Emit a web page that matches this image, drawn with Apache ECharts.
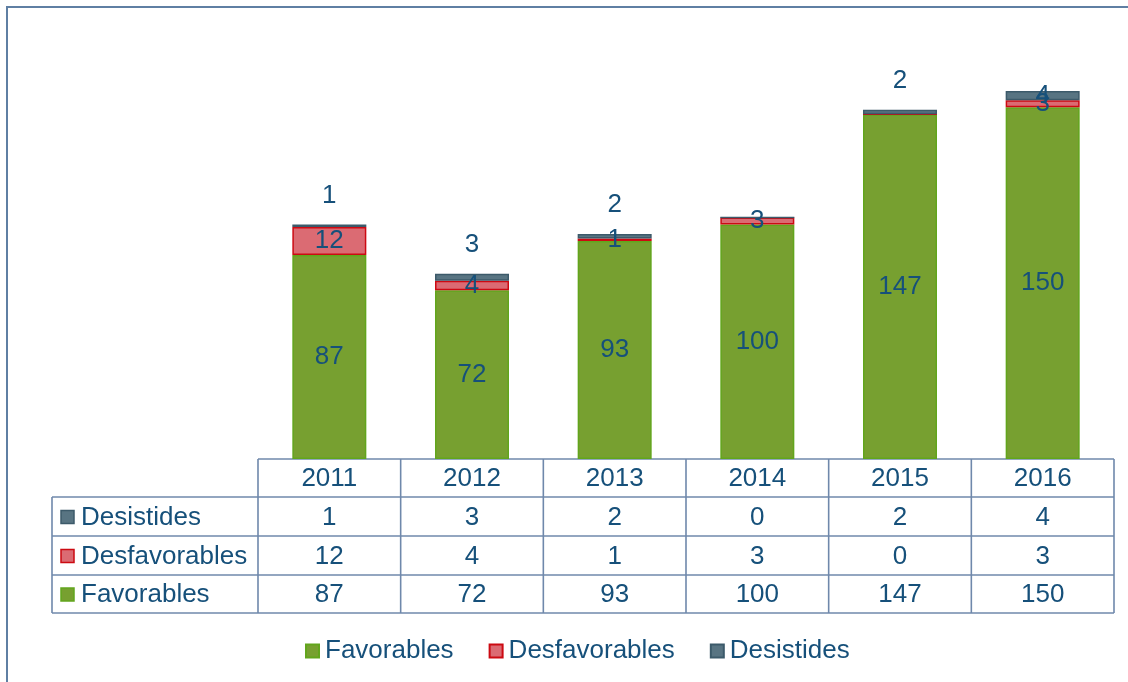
<!DOCTYPE html>
<html>
<head>
<meta charset="utf-8">
<script src="https://cdn.jsdelivr.net/npm/echarts@6/dist/echarts.min.js"></script>
<style>html,body{margin:0;padding:0;background:#fff}#c{width:1128px;height:682px}</style>
</head>
<body>
<div id="c"></div>
<script>
const years = ['2011','2012','2013','2014','2015','2016'];
const favorables = [87, 72, 93, 100, 147, 150];
const desfavorables = [12, 4, 1, 3, 0, 3];
const desistides = [1, 3, 2, 0, 2, 4];
const seriesNames = ['Favorables', 'Desfavorables', 'Desistides'];

const TXT = '#16507A';
const FONT = 'Liberation Sans, Arial, sans-serif';
const FS = 26;
const colors = {
  Favorables: {fill: '#77A030', border: '#62A51C'},
  Desfavorables: {fill: '#DB6B73', border: '#CC0A12'},
  Desistides: {fill: '#587482', border: '#3C5A6A'}
};
const TBL = '#6F88AB';

const gridLeft = 258, gridRight = 1114, axisY = 459;
const rowYs = [459, 497, 536, 575, 613];
const tableLeft = 52;
const colW = (gridRight - gridLeft) / years.length;

const chart = echarts.init(document.getElementById('c'), null, {renderer: 'canvas'});

const hideZero = p => (p.value === 0 ? '' : String(p.value));
const labelBase = {show: true, color: TXT, fontSize: FS, fontFamily: FONT, formatter: hideZero};

function mkSeries(name, data, labelCfg) {
  return {
    name: name, type: 'bar', stack: 'total', barWidth: 74,
    itemStyle: {color: colors[name].fill, borderColor: colors[name].border, borderWidth: 1.5},
    label: Object.assign({}, labelBase, labelCfg),
    data: data,
    emphasis: {disabled: true}
  };
}

const insideIdx = 5;
const desistidesData = desistides.map((v, i) => i === insideIdx ? {value: v, label: {position: 'inside'}} : v);

// graphic table
const g = [];
g.push({type: 'rect', shape: {x: 7, y: 7, width: 1300, height: 900}, style: {fill: null, stroke: '#5F7FA3', lineWidth: 2}, silent: true});
function line(x1, y1, x2, y2) {
  g.push({type: 'line', shape: {x1, y1, x2, y2}, style: {stroke: TBL, lineWidth: 1.6}, silent: true});
}
line(gridLeft, rowYs[0], gridRight, rowYs[0]);
for (let r = 1; r < rowYs.length; r++) line(tableLeft, rowYs[r], gridRight, rowYs[r]);
line(tableLeft, rowYs[1], tableLeft, rowYs[4]);
for (let c = 0; c <= years.length; c++) {
  const x = gridLeft + c * colW;
  line(x, rowYs[0], x, rowYs[4]);
}
function txt(x, y, s, align) {
  g.push({type: 'text', x: x, y: y, style: {text: s, fill: TXT, font: FS + 'px ' + FONT, textAlign: align || 'center', textVerticalAlign: 'middle'}, silent: true});
}
years.forEach((y, i) => txt(gridLeft + (i + 0.5) * colW, (rowYs[0] + rowYs[1]) / 2 + 1, y));
const tableRows = [['Desistides', desistides], ['Desfavorables', desfavorables], ['Favorables', favorables]];
tableRows.forEach((row, r) => {
  const cy = (rowYs[r + 1] + rowYs[r + 2]) / 2 + 1;
  g.push({type: 'rect', shape: {x: 61, y: cy - 7, width: 13, height: 13}, style: {fill: colors[row[0]].fill, stroke: colors[row[0]].border, lineWidth: 1.5}, silent: true});
  txt(81, cy, row[0], 'left');
  row[1].forEach((v, i) => txt(gridLeft + (i + 0.5) * colW, cy, String(v)));
});

chart.setOption({
  animation: false,
  textStyle: {fontFamily: FONT},
  grid: {left: gridLeft, right: 1128 - gridRight, top: 37, bottom: 682 - axisY, containLabel: false},
  xAxis: {type: 'category', data: years, axisLine: {show: false}, axisTick: {show: false}, axisLabel: {show: false}},
  yAxis: {type: 'value', min: 0, max: 180, show: false, splitLine: {show: false}},
  legend: {
    data: seriesNames, left: 300, top: 633, icon: 'rect', itemWidth: 13, itemHeight: 13, itemGap: 35,
    textStyle: {color: TXT, fontSize: FS, fontFamily: FONT, padding: [0, 0, 0, 1]}
  },
  series: [
    mkSeries('Favorables', favorables, {position: 'inside'}),
    mkSeries('Desfavorables', desfavorables, {position: 'inside'}),
    mkSeries('Desistides', desistidesData, {position: 'top', distance: 16})
  ],
  graphic: g
});
</script>
</body>
</html>
